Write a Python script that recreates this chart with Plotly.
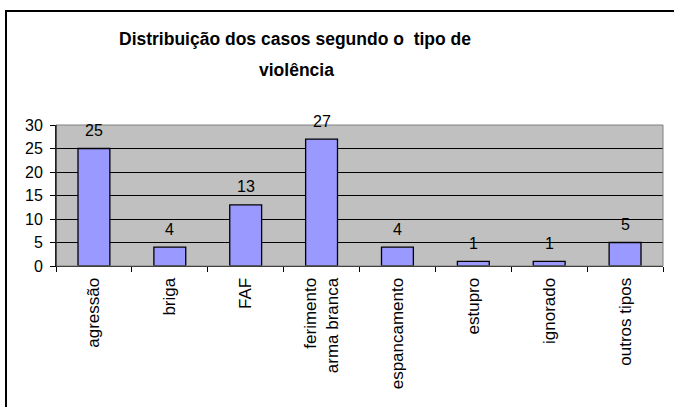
import plotly.graph_objects as go

categories = ["agressão", "briga", "FAF", "ferimento<br>arma branca",
              "espancamento", "estupro", "ignorado", "outros tipos"]
values = [25, 4, 13, 27, 4, 1, 1, 5]
y_ticks = [0, 5, 10, 15, 20, 25, 30]
title_line1 = "Distribuição dos casos segundo o  tipo de"
title_line2 = "violência"

W, H = 674, 407
L, R, T, B = 56, 11, 125, 141
pw, ph = W - L - R, H - T - B

def px_x(x):
    return (x - L) / pw

def px_y(y):
    return (H - B - y) / ph

FONT = "Arial, Liberation Sans, sans-serif"

fig = go.Figure()
fig.add_trace(go.Bar(
    x=categories, y=values,
    marker=dict(color="#9999FF", line=dict(color="black", width=1.3)),
    hoverinfo="skip",
))

annotations = []
for c, v in zip(categories, values):
    annotations.append(dict(x=c, y=v, xref="x", yref="y", text=str(v),
                            showarrow=False, yanchor="middle", yshift=18,
                            font=dict(family=FONT, size=16, color="black")))
annotations.append(dict(x=px_x(295), y=px_y(39), xref="paper", yref="paper",
                        text="<b>" + title_line1 + "</b>", showarrow=False,
                        xanchor="center", yanchor="middle",
                        font=dict(family=FONT, size=17.5, color="black")))
annotations.append(dict(x=px_x(296), y=px_y(70), xref="paper", yref="paper",
                        text="<b>" + title_line2 + "</b>", showarrow=False,
                        xanchor="center", yanchor="middle",
                        font=dict(family=FONT, size=17.5, color="black")))

shapes = [
    dict(type="rect", xref="paper", yref="paper", x0=0, x1=1, y0=0, y1=1,
         line=dict(color="#808080", width=1), layer="above"),
    dict(type="line", xref="paper", yref="paper", x0=0, x1=0, y0=0, y1=1,
         line=dict(color="black", width=1), layer="above"),
    dict(type="rect", xref="paper", yref="paper",
         x0=px_x(6), x1=px_x(690), y0=px_y(11), y1=px_y(420),
         line=dict(color="black", width=2), layer="above"),
]

fig.update_layout(
    width=W, height=H,
    margin=dict(l=L, r=R, t=T, b=B, pad=0),
    paper_bgcolor="white", plot_bgcolor="#C0C0C0",
    showlegend=False, bargap=0.58,
    annotations=annotations, shapes=shapes,
    font=dict(family=FONT, size=16, color="black"),
)
fig.update_xaxes(
    type="category", categoryorder="array", categoryarray=categories,
    tickson="boundaries", tickangle=-90,
    showline=True, linecolor="black", linewidth=1,
    ticks="outside", ticklen=5, tickcolor="black", showgrid=False,
    tickfont=dict(family=FONT, size=17), ticklabelstandoff=4,
    zeroline=False,
)
fig.update_yaxes(
    range=[0, 30], tickmode="array", tickvals=y_ticks,
    showline=True, linecolor="black", linewidth=1,
    ticks="outside", ticklen=5, tickcolor="black",
    showgrid=True, gridcolor="black", gridwidth=1,
    tickfont=dict(family=FONT, size=16), ticklabelstandoff=4,
    zeroline=False,
)

fig.write_html("out.html", config={"displayModeBar": False},
               post_script="document.body.style.margin='0';document.body.style.overflow='hidden';")
